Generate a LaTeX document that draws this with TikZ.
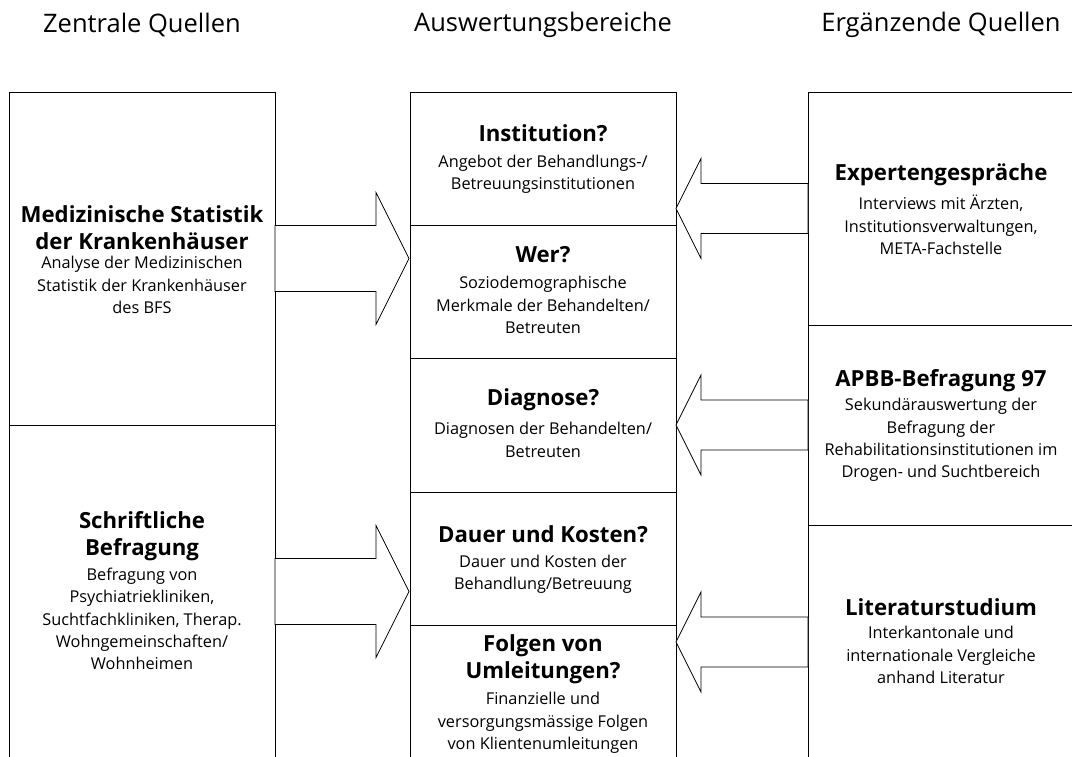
\documentclass[tikz,border=0pt]{standalone}
\usepackage{fontspec}
\setmainfont{Open Sans}
\begin{document}
\begin{tikzpicture}[x=1pt,y=-1pt,
  box/.style={draw=black,line width=1pt,inner sep=0pt,outer sep=0pt,anchor=north west,rectangle},
  hd/.style={font={\fontsize{22.2}{27}\selectfont\bfseries},align=center,inner sep=0pt},
  bd/.style={font={\fontsize{16.3}{22.3}\selectfont},align=center,inner sep=0pt},
  ttl/.style={font={\fontsize{25.5}{28}\selectfont},inner sep=0pt},
  barrow/.style={draw=black,line width=0.8pt,fill=white,line join=miter}]
\useasboundingbox (0,0) rectangle (1072,756);
\fill[white] (0,0) rectangle (1072,756);
% titles
\node[ttl] (t1) at (142,25) {Zentrale Quellen};
\node[ttl] (t2) at (543,25) {Auswertungsbereiche};
\node[ttl] (t3) at (941,25) {Ergänzende Quellen};
% left column
\node[box,minimum width=266pt,minimum height=333pt] (L1) at (9,92) {};
\node[box,minimum width=266pt,minimum height=333pt] (L2) at (9,425) {};
% middle column
\node[box,minimum width=266pt,minimum height=133pt] (M1) at (410,92) {};
\node[box,minimum width=266pt,minimum height=133pt] (M2) at (410,225) {};
\node[box,minimum width=266pt,minimum height=134pt] (M3) at (410,358) {};
\node[box,minimum width=266pt,minimum height=133pt] (M4) at (410,492) {};
\node[box,minimum width=266pt,minimum height=134pt] (M5) at (410,625) {};
% right column
\node[box,minimum width=266pt,minimum height=233pt] (R1) at (808,92) {};
\node[box,minimum width=266pt,minimum height=200pt] (R2) at (808,325) {};
\node[box,minimum width=266pt,minimum height=234pt] (R3) at (808,525) {};
% block arrows left -> middle
\draw[barrow] (L1.east) ++(0,-33) -- ++(101,0) -- ++(0,-33) -- ++(33,66) -- ++(-33,66) -- ++(0,-33) -- ++(-101,0) -- cycle;
\draw[barrow] (L2.east) ++(0,-33) -- ++(101,0) -- ++(0,-33) -- ++(33,66) -- ++(-33,66) -- ++(0,-33) -- ++(-101,0) -- cycle;
% block arrows right -> middle
\draw[barrow] (R1.west) ++(0,-25) -- ++(-107,0) -- ++(0,-25) -- ++(-25,50) -- ++(25,50) -- ++(0,-25) -- ++(107,0) -- cycle;
\draw[barrow] (R2.west) ++(0,-25) -- ++(-107,0) -- ++(0,-25) -- ++(-25,50) -- ++(25,50) -- ++(0,-25) -- ++(107,0) -- cycle;
\draw[barrow] (R3.west) ++(0,-25) -- ++(-107,0) -- ++(0,-25) -- ++(-25,50) -- ++(25,50) -- ++(0,-25) -- ++(107,0) -- cycle;
% texts left
\node[hd] (L1h) at (142,228) {Medizinische Statistik\\der Krankenhäuser};
\node[bd] (L1b) at (142,285) {Analyse der Medizinischen\\Statistik der Krankenhäuser\\des BFS};
\node[hd] (L2h) at (142,536) {Schriftliche\\Befragung};
\node[bd] (L2b) at (142,619) {Befragung von\\Psychiatriekliniken,\\Suchtfachkliniken, Therap.\\Wohngemeinschaften/\\Wohnheimen};
% texts middle
\node[hd] (M1h) at (543,133) {Institution?};
\node[bd] (M1b) at (543,174) {Angebot der Behandlungs-/\\Betreuungsinstitutionen};
\node[hd] (M2h) at (543,255) {Wer?};
\node[bd] (M2b) at (543,305) {Soziodemographische\\Merkmale der Behandelten/\\Betreuten};
\node[hd] (M3h) at (543,400) {Diagnose?};
\node[bd] (M3b) at (543,440) {Diagnosen der Behandelten/\\Betreuten};
\node[hd] (M4h) at (543,534) {Dauer und Kosten?};
\node[bd] (M4b) at (543,574) {Dauer und Kosten der\\Behandlung/Betreuung};
\node[hd] (M5h) at (543,659.5) {Folgen von\\Umleitungen?};
\node[bd] (M5b) at (543,723) {Finanzielle und\\versorgungsmässige Folgen\\von Klientenumleitungen};
% texts right
\node[hd] (R1h) at (941,175) {Expertengespräche};
\node[bd] (R1b) at (941,225) {Interviews mit Ärzten,\\Institutionsverwaltungen,\\META-Fachstelle};
\node[hd] (R2h) at (941,381) {APBB-Befragung 97};
\node[bd] (R2b) at (941,440) {Sekundärauswertung der\\Befragung der\\Rehabilitationsinstitutionen im\\Drogen- und Suchtbereich};
\node[hd] (R3h) at (941,607) {Literaturstudium};
\node[bd] (R3b) at (941,655) {Interkantonale und\\internationale Vergleiche\\anhand Literatur};
\end{tikzpicture}
\end{document}
